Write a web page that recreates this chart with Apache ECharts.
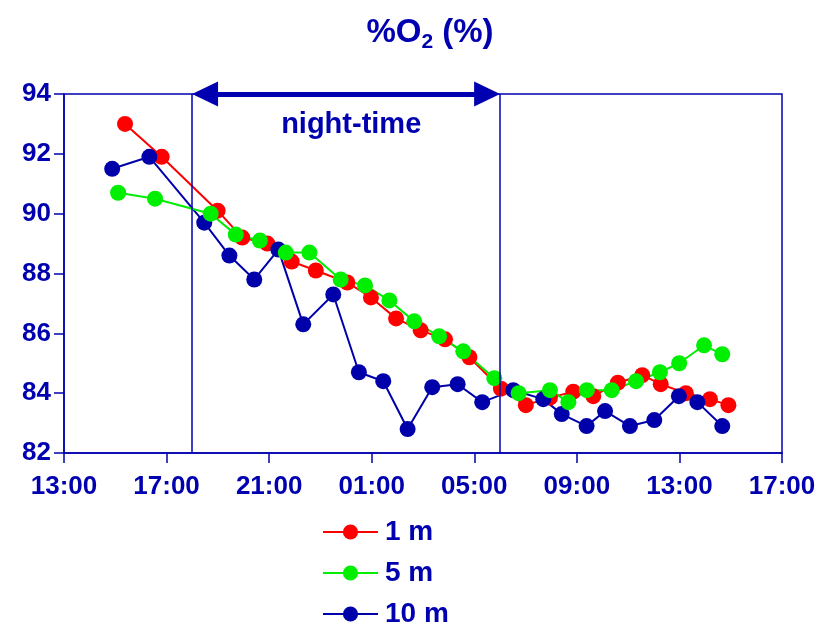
<!DOCTYPE html>
<html>
<head>
<meta charset="utf-8">
<title>%O2 (%)</title>
<script src="https://cdn.jsdelivr.net/npm/echarts@6/dist/echarts.min.js"></script>
<style>
  html, body { margin: 0; padding: 0; background: #ffffff; }
  #chart { width: 834px; height: 626px; }
</style>
</head>
<body>
<div id="chart"></div>
<script>
// Time is given in hours elapsed since 13:00 on the first day.
const startClockHour = 13;
const xTickHours = [0, 4, 8, 12, 16, 20, 24, 28];
const yTicks = [82, 84, 86, 88, 90, 92, 94];
const nightStartHour = 5;   // 18:00
const nightEndHour = 17;    // 06:00

const seriesNames = ['1 m', '5 m', '10 m'];

// 1 m depth
const hours1m = [2.38, 3.81, 5.99, 6.95, 7.93, 8.88, 9.82, 11.05, 11.97, 12.95, 13.91, 14.86,
                 15.81, 17.04, 18.01, 18.95, 19.86, 20.64, 21.6, 22.55, 23.27, 24.25, 25.19, 25.91];
const o2_1m = [93.0, 91.9, 90.1, 89.2, 89.0, 88.4, 88.1, 87.7, 87.2, 86.5, 86.1, 85.8,
               85.2, 84.15, 83.6, 83.85, 84.05, 83.9, 84.35, 84.6, 84.3, 84.0, 83.8, 83.6];

// 5 m depth
const hours5m = [2.11, 3.55, 5.72, 6.70, 7.64, 8.65, 9.57, 10.79, 11.74, 12.69, 13.66, 14.63,
                 15.57, 16.78, 17.73, 18.95, 19.67, 20.39, 21.36, 22.31, 23.24, 23.99, 24.96, 25.67];
const o2_5m = [90.7, 90.5, 90.0, 89.3, 89.1, 88.7, 88.7, 87.8, 87.6, 87.1, 86.4, 85.9,
               85.4, 84.5, 84.0, 84.1, 83.7, 84.1, 84.1, 84.4, 84.7, 85.0, 85.6, 85.3];

// 10 m depth
const hours10m = [1.88, 3.33, 5.47, 6.45, 7.42, 8.36, 9.33, 10.50, 11.5, 12.45, 13.4, 14.36,
                  15.35, 16.31, 17.52, 18.69, 19.41, 20.38, 21.1, 22.07, 23.02, 23.98, 24.7, 25.67];
const o2_10m = [91.5, 91.9, 89.7, 88.6, 87.8, 88.8, 86.3, 87.3, 84.7, 84.4, 82.8, 84.2,
                84.3, 83.7, 84.1, 83.8, 83.3, 82.9, 83.4, 82.9, 83.1, 83.9, 83.7, 82.9];

const NAVY = '#0000b0';
const FONT = '"Liberation Sans", Arial, Helvetica, sans-serif';

function pairs(xs, ys) {
  return xs.map((x, i) => [x, ys[i]]);
}

function clockLabel(h) {
  const c = (startClockHour + h) % 24;
  return (c < 10 ? '0' : '') + c + ':00';
}

// half the arrowhead length, in hours, so the tips meet the night boundaries
const arrowHalfHead = 0.5;

const chart = echarts.init(document.getElementById('chart'), null, { renderer: 'canvas' });

const baseSeries = (name, xs, ys, color) => ({
  name: name,
  type: 'line',
  data: pairs(xs, ys),
  symbol: 'circle',
  symbolSize: 16,
  clip: false,
  animation: false,
  lineStyle: { color: color, width: 2 },
  itemStyle: { color: color },
  emphasis: { disabled: true }
});

const s1 = baseSeries(seriesNames[0], hours1m, o2_1m, '#ff0000');
const s5 = baseSeries(seriesNames[1], hours5m, o2_5m, '#00ee00');
const s10 = baseSeries(seriesNames[2], hours10m, o2_10m, '#0000aa');

// Night-time boundaries, the double arrow and its caption
s1.markLine = {
  silent: true,
  animation: false,
  symbol: ['none', 'none'],
  label: { show: false },
  lineStyle: { color: NAVY, width: 1.5, type: 'solid' },
  data: [
    { xAxis: nightStartHour },
    { xAxis: nightEndHour },
    [
      { coord: [nightStartHour + arrowHalfHead, yTicks[yTicks.length - 1]], symbol: 'triangle', symbolSize: [25, 26] },
      { coord: [nightEndHour - arrowHalfHead, yTicks[yTicks.length - 1]], symbol: 'triangle', symbolSize: [25, 26],
        lineStyle: { width: 5, color: NAVY } }
    ]
  ]
};
s1.markPoint = {
  silent: true,
  animation: false,
  symbol: 'circle',
  symbolSize: 0,
  label: {
    show: true,
    position: 'inside',
    formatter: 'night-time',
    color: NAVY,
    fontFamily: FONT,
    fontWeight: 'bold',
    fontSize: 29
  },
  data: [{ coord: [(nightStartHour + nightEndHour) / 2 + 0.2, 92.97] }]
};

const option = {
  backgroundColor: '#ffffff',
  animation: false,
  title: {
    text: '{a|%O}{b|2}{a| (%)}',
    left: 425,
    top: 8,
    textAlign: 'center',
    textStyle: {
      rich: {
        a: { fontFamily: FONT, fontWeight: 'bold', fontSize: 33, color: NAVY, lineHeight: 40 },
        b: { fontFamily: FONT, fontWeight: 'bold', fontSize: 21, color: NAVY, lineHeight: 18, verticalAlign: 'bottom' }
      }
    }
  },
  grid: {
    left: 64,
    right: 52,
    top: 94,
    bottom: 173,
    show: true,
    borderColor: NAVY,
    borderWidth: 1.5,
    backgroundColor: 'transparent'
  },
  legend: {
    data: seriesNames,
    orient: 'vertical',
    left: 322,
    top: 518,
    height: 300,
    padding: 0,
    itemWidth: 55,
    itemHeight: 19,
    itemGap: 13,
    selectedMode: false,
    textStyle: {
      fontFamily: FONT,
      fontWeight: 'bold',
      fontSize: 28,
      color: NAVY,
      padding: [0, 0, 0, 2]
    }
  },
  xAxis: {
    type: 'value',
    min: xTickHours[0],
    max: xTickHours[xTickHours.length - 1],
    interval: 4,
    axisLine: { show: true, onZero: false, lineStyle: { color: NAVY, width: 1.5 } },
    axisTick: { show: true, inside: false, length: 10, lineStyle: { color: NAVY, width: 1.5 } },
    splitLine: { show: false },
    axisLabel: {
      formatter: clockLabel,
      color: NAVY,
      fontFamily: FONT,
      fontWeight: 'bold',
      fontSize: 26,
      margin: 21
    }
  },
  yAxis: {
    type: 'value',
    min: yTicks[0],
    max: yTicks[yTicks.length - 1],
    interval: 2,
    axisLine: { show: true, onZero: false, lineStyle: { color: NAVY, width: 1.5 } },
    axisTick: { show: true, inside: false, length: 10, lineStyle: { color: NAVY, width: 1.5 } },
    splitLine: { show: false },
    axisLabel: {
      color: NAVY,
      fontFamily: FONT,
      fontWeight: 'bold',
      fontSize: 26,
      margin: 13
    }
  },
  // red drawn first, green on top
  series: [s1, s10, s5]
};

chart.setOption(option);
</script>
</body>
</html>
